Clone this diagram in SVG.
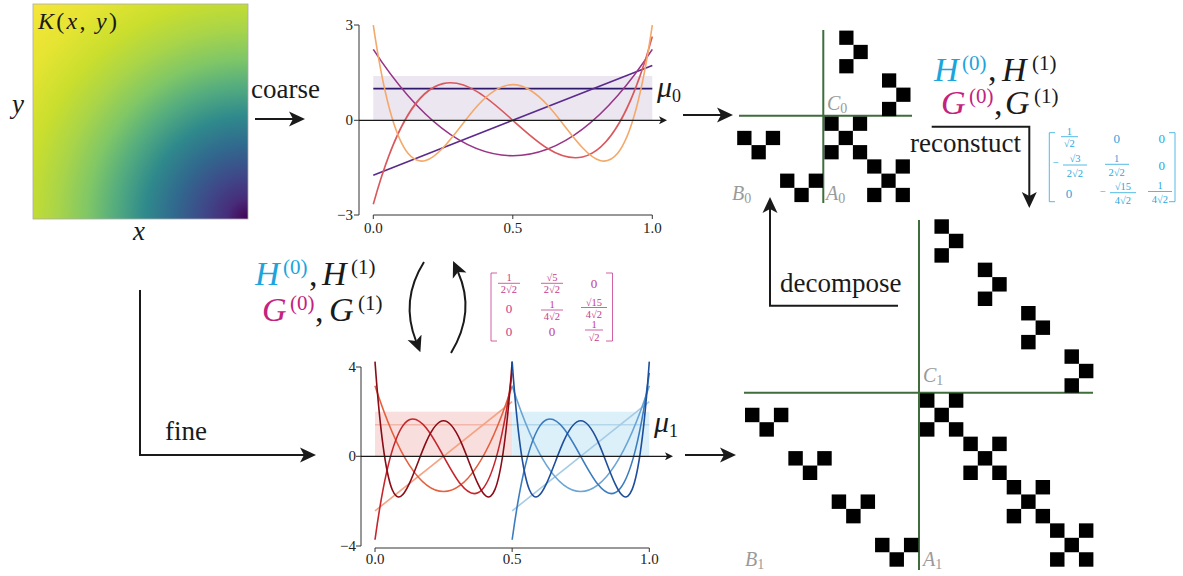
<svg xmlns="http://www.w3.org/2000/svg" width="1183" height="576" viewBox="0 0 1183 576">
<style>
.ax{stroke:#333;stroke-width:1;fill:none}
.cv{fill:none;stroke-width:1.6}
.arr{fill:none;stroke:#1a1a1a;stroke-width:2;marker-end:url(#ah)}
.axl{fill:none;stroke:#1a1a1a;stroke-width:1.2;marker-end:url(#axh)}
.tk{font-family:"Liberation Serif",serif;font-size:15px;fill:#222}
.lbl{font-family:"Liberation Serif",serif;font-size:27px;fill:#1a1a1a}
.it{font-style:italic}
.mt{font-family:"Liberation Serif",serif;font-size:34px;fill:#1a1a1a}
.sup{font-size:21px;font-style:normal}
.gl{stroke:#3f6e3c;stroke-width:2}
.ml{font-family:"Liberation Serif",serif;font-style:italic;font-size:20px;fill:#9a9a9a}
.ms{font-style:normal;font-size:14px}
.fr{font-family:"Liberation Serif",serif;font-size:10.5px;text-anchor:middle}
.z{font-family:"Liberation Serif",serif;font-size:13px;text-anchor:middle}
.pk{fill:#c53a8c}
.pks{stroke:#c53a8c;stroke-width:0.8;fill:none}
.bl{fill:#2aa7dd}
.bls{stroke:#2aa7dd;stroke-width:0.8;fill:none}
.hb{fill:#1ca5dc}
.gm{fill:#c4227f}
</style>
<defs>
<radialGradient id="vir" gradientUnits="userSpaceOnUse" cx="248" cy="219" r="304">
<stop offset="0" stop-color="#440154"/>
<stop offset="0.07" stop-color="#472d7b"/>
<stop offset="0.15" stop-color="#3e4a89"/>
<stop offset="0.24" stop-color="#31688e"/>
<stop offset="0.34" stop-color="#2f8a8c"/>
<stop offset="0.44" stop-color="#55ad7e"/>
<stop offset="0.53" stop-color="#80c766"/>
<stop offset="0.63" stop-color="#aad548"/>
<stop offset="0.73" stop-color="#c9de2e"/>
<stop offset="0.86" stop-color="#e6e432"/>
<stop offset="1" stop-color="#f5e63a"/>
</radialGradient>
<marker id="ah" viewBox="0 -8 16 16" refX="4" refY="0" markerWidth="16" markerHeight="16" markerUnits="userSpaceOnUse" orient="auto">
<path d="M16,0 L0,-7.5 L4,0 L0,7.5 Z" fill="#1a1a1a"/>
</marker>
<marker id="axh" viewBox="0 -4 8 8" refX="2" refY="0" markerWidth="8" markerHeight="8" markerUnits="userSpaceOnUse" orient="auto">
<path d="M8,0 L0,-4 L2,0 L0,4 Z" fill="#1a1a1a"/>
</marker>
</defs>

<rect width="1183" height="576" fill="#fff"/>

<g id="heatmap">
<rect x="33" y="4" width="215" height="215" fill="url(#vir)" stroke="#aaa" stroke-width="0.8"/>
<text x="38" y="29" font-family="Liberation Serif, serif" font-size="24" fill="#1a1a1a" textLength="79" lengthAdjust="spacing"><tspan font-style="italic">K</tspan>(<tspan font-style="italic">x</tspan>, <tspan font-style="italic">y</tspan>)</text>
<text x="12" y="113" font-family="Liberation Serif, serif" font-size="27" font-style="italic" fill="#1a1a1a">y</text>
<text x="133" y="240" font-family="Liberation Serif, serif" font-size="27" font-style="italic" fill="#1a1a1a">x</text>
</g>

<g id="plot-coarse">
<rect x="373.3" y="76" width="279" height="44.3" fill="#ebe6f0"/>
<path class="cv" stroke="#2d1a6b" d="M373.3,88.6 H652.3"/>
<path class="cv" stroke="#5b2a8c" d="M373.3,175.21 L652.3,65.39"/>
<path class="cv" stroke="#983386" d="M373.3,49.42 Q512.8,262.07 652.3,49.42"/>
<path class="cv" stroke="#d9585d" d="M373.3,204.17 C466.3,-131.31 559.3,371.91 652.3,36.43"/>
<path class="cv" stroke="#f4a86a" d="M373.3,25.2 C384.93,104.45 396.55,139.66 408.18,153.59 C419.8,167.52 431.43,160.17 443.05,147.79 C454.68,135.41 466.3,117.99 477.93,105.3 C489.55,92.61 501.18,84.64 512.8,84.64 C524.43,84.64 536.05,92.61 547.68,105.3 C559.3,117.99 570.93,135.41 582.55,147.79 C594.18,160.17 605.8,167.52 617.43,153.59 C629.05,139.66 640.68,104.45 652.3,25.2"/>
<path class="ax" d="M359,25 V215 M354,25 H359 M354,120.3 H359 M354,215 H359 M373.3,215 H652.3 M373.3,215 V219 M512.8,215 V219 M652.3,215 V219"/>
<path class="axl" d="M359,120.3 H661"/>
<text class="tk" x="353" y="30" text-anchor="end">3</text>
<text class="tk" x="353" y="125" text-anchor="end">0</text>
<text class="tk" x="353" y="220" text-anchor="end">−3</text>
<text class="tk" x="373.3" y="233" text-anchor="middle">0.0</text>
<text class="tk" x="512.8" y="233" text-anchor="middle">0.5</text>
<text class="tk" x="652.3" y="233" text-anchor="middle">1.0</text>
<text x="657" y="97" font-family="Liberation Serif, serif" font-size="30" fill="#1a1a1a"><tspan font-style="italic">μ</tspan><tspan font-size="18" dy="5">0</tspan></text>
</g>

<g id="plot-fine">
<rect x="375" y="411.7" width="137.15" height="44.6" fill="#f9dede"/>
<rect x="512.15" y="411.7" width="137.15" height="44.6" fill="#dcf0f9"/>
<path class="cv" stroke="#f2b6aa" d="M375,424.76 H512.15"/>
<path class="cv" stroke="#f5a383" d="M375,510.93 L512.15,401.67"/>
<path class="cv" stroke="#e4603e" d="M375,385.77 Q443.58,597.35 512.15,385.77"/>
<path class="cv" stroke="#c6252b" d="M375,539.75 C420.72,205.95 466.43,706.65 512.15,372.85"/>
<path class="cv" stroke="#8b0c16" d="M375,361.68 C380.71,440.53 386.43,475.57 392.14,489.43 C397.86,503.29 403.57,495.97 409.29,483.65 C415,471.33 420.72,454.01 426.43,441.38 C432.15,428.75 437.86,420.82 443.58,420.82 C449.29,420.82 455,428.75 460.72,441.38 C466.43,454.01 472.15,471.33 477.86,483.65 C483.58,495.97 489.29,503.29 495.01,489.43 C500.72,475.57 506.44,440.53 512.15,361.68"/>
<path class="cv" stroke="#b3d6eb" d="M512.15,424.76 H649.3"/>
<path class="cv" stroke="#a5cbe5" d="M512.15,510.93 L649.3,401.67"/>
<path class="cv" stroke="#6aa5d5" d="M512.15,385.77 Q580.73,597.35 649.3,385.77"/>
<path class="cv" stroke="#3b7cc0" d="M512.15,539.75 C557.87,205.95 603.58,706.65 649.3,372.85"/>
<path class="cv" stroke="#1e4f9c" d="M512.15,361.68 C517.86,440.53 523.58,475.57 529.29,489.43 C535.01,503.29 540.72,495.97 546.44,483.65 C552.15,471.33 557.87,454.01 563.58,441.38 C569.3,428.75 575.01,420.82 580.73,420.82 C586.44,420.82 592.15,428.75 597.87,441.38 C603.58,454.01 609.3,471.33 615.01,483.65 C620.73,495.97 626.44,503.29 632.16,489.43 C637.87,475.57 643.59,440.53 649.3,361.68"/>
<path class="ax" d="M361,367 V546 M356,367 H361 M356,456.3 H361 M356,546 H361 M375,548 H649.3 M375,548 V552 M512.15,548 V552 M649.3,548 V552"/>
<path class="axl" d="M361,456.3 H667"/>
<text class="tk" x="356" y="372" text-anchor="end">4</text>
<text class="tk" x="356" y="461" text-anchor="end">0</text>
<text class="tk" x="356" y="551" text-anchor="end">−4</text>
<text class="tk" x="375" y="564" text-anchor="middle">0.0</text>
<text class="tk" x="512.15" y="564" text-anchor="middle">0.5</text>
<text class="tk" x="649.3" y="564" text-anchor="middle">1.0</text>
<text x="654" y="432" font-family="Liberation Serif, serif" font-size="30" fill="#1a1a1a"><tspan font-style="italic">μ</tspan><tspan font-size="18" dy="5">1</tspan></text>
</g>

<g id="filters-mid">
<text class="mt"><tspan class="hb it" x="255" y="285">H</tspan><tspan class="hb sup" x="283" y="274">(0)</tspan><tspan x="309" y="286">,</tspan><tspan class="it" x="322" y="285">H</tspan><tspan class="sup" x="351" y="274">(1)</tspan></text>
<text class="mt"><tspan class="gm it" x="262" y="321">G</tspan><tspan class="gm sup" x="290" y="310">(0)</tspan><tspan x="315" y="322">,</tspan><tspan class="it" x="329" y="321">G</tspan><tspan class="sup" x="358" y="310">(1)</tspan></text>
</g>

<g id="matrix-pink">
<path class="pks" d="M497,273 H491 V341 H497 M606,273 H612.5 V341 H606"/>
<text class="fr pk" x="509" y="281">1</text><path class="pks" d="M498,283.3 H520"/><text class="fr pk" x="509" y="293">2√2</text>
<text class="fr pk" x="552" y="281">√5</text><path class="pks" d="M541,283.3 H563"/><text class="fr pk" x="552" y="293">2√2</text>
<text class="z pk" x="594" y="288">0</text>
<text class="z pk" x="509" y="313">0</text>
<text class="fr pk" x="552" y="307.5">1</text><path class="pks" d="M541,310 H563"/><text class="fr pk" x="552" y="319.5">4√2</text>
<text class="fr pk" x="594" y="305.5">√15</text><path class="pks" d="M581,307.5 H607"/><text class="fr pk" x="594" y="317.5">4√2</text>
<text class="z pk" x="509" y="336">0</text>
<text class="z pk" x="552" y="336">0</text>
<text class="fr pk" x="594" y="327.5">1</text><path class="pks" d="M585,330 H603"/><text class="fr pk" x="594" y="340.5">√2</text>
</g>

<g id="text-coarse"><text class="lbl" x="251" y="98">coarse</text></g>
<g id="text-fine"><text class="lbl" x="165" y="440">fine</text></g>
<g id="text-decompose"><text class="lbl" x="780" y="292">decompose</text></g>
<g id="text-reconstruct"><text class="lbl" x="910" y="152">reconstuct</text></g>

<g id="filters-top">
<text class="mt"><tspan class="hb it" x="934" y="81">H</tspan><tspan class="hb sup" x="962" y="70">(0)</tspan><tspan x="988" y="81">,</tspan><tspan class="it" x="1002" y="81">H</tspan><tspan class="sup" x="1032" y="70">(1)</tspan></text>
<text class="mt"><tspan class="gm it" x="941" y="114">G</tspan><tspan class="gm sup" x="969" y="103">(0)</tspan><tspan x="994" y="115">,</tspan><tspan class="it" x="1005" y="114">G</tspan><tspan class="sup" x="1034" y="103">(1)</tspan></text>
</g>

<g id="matrix-blue">
<path class="bls" d="M1055,132.7 H1049.3 V201.7 H1055 M1169,132.7 H1175 V201.7 H1169"/>
<text class="fr bl" x="1069.3" y="134.5">1</text><path class="bls" d="M1061,136.7 H1078"/><text class="fr bl" x="1069.3" y="147">√2</text>
<text class="z bl" x="1116.7" y="143">0</text>
<text class="z bl" x="1161.7" y="143">0</text>
<text class="fr bl" x="1056" y="166">−</text>
<text class="fr bl" x="1075" y="162">√3</text><path class="bls" d="M1063,165 H1087"/><text class="fr bl" x="1075" y="176.5">2√2</text>
<text class="fr bl" x="1116.7" y="161.5">1</text><path class="bls" d="M1105,164.3 H1129"/><text class="fr bl" x="1116.7" y="176">2√2</text>
<text class="z bl" x="1161.7" y="170">0</text>
<text class="z bl" x="1069" y="198">0</text>
<text class="fr bl" x="1103" y="195">−</text>
<text class="fr bl" x="1123" y="190">√15</text><path class="bls" d="M1110,192.7 H1136"/><text class="fr bl" x="1123" y="203.5">4√2</text>
<text class="fr bl" x="1160" y="189">1</text><path class="bls" d="M1148,191.5 H1172"/><text class="fr bl" x="1160" y="202.5">4√2</text>
</g>

<g id="matrix-coarse">
<path class="gl" d="M823.3,30 V203 M739,115.7 H912"/>
<g fill="#000">
<rect x="839.25" y="30.6" width="14.25" height="14.25"/>
<rect x="853.5" y="44.85" width="14.25" height="14.25"/>
<rect x="839.25" y="59.1" width="14.25" height="14.25"/>
<rect x="882" y="73.35" width="14.25" height="14.25"/>
<rect x="896.25" y="87.6" width="14.25" height="14.25"/>
<rect x="882" y="101.85" width="14.25" height="14.25"/>
<rect x="824.4" y="116.6" width="14.25" height="14.25"/>
<rect x="852.9" y="116.6" width="14.25" height="14.25"/>
<rect x="838.65" y="130.85" width="14.25" height="14.25"/>
<rect x="824.4" y="145.1" width="14.25" height="14.25"/>
<rect x="852.9" y="145.1" width="14.25" height="14.25"/>
<rect x="867.15" y="159.35" width="14.25" height="14.25"/>
<rect x="895.65" y="159.35" width="14.25" height="14.25"/>
<rect x="881.4" y="173.6" width="14.25" height="14.25"/>
<rect x="867.15" y="187.85" width="14.25" height="14.25"/>
<rect x="895.65" y="187.85" width="14.25" height="14.25"/>
<rect x="737.2" y="130.85" width="14.3" height="14.25"/>
<rect x="765.8" y="130.85" width="14.3" height="14.25"/>
<rect x="751.5" y="145.1" width="14.3" height="14.25"/>
<rect x="780.1" y="173.6" width="14.3" height="14.25"/>
<rect x="808.7" y="173.6" width="14.3" height="14.25"/>
<rect x="794.4" y="187.85" width="14.3" height="14.25"/>
</g>
<text class="ml" x="827" y="110">C<tspan class="ms" dy="3">0</tspan></text>
<text class="ml" x="826" y="200">A<tspan class="ms" dy="3">0</tspan></text>
<text class="ml" x="732" y="200">B<tspan class="ms" dy="3">0</tspan></text>
</g>

<g id="matrix-fine">
<path class="gl" d="M919,220 V570 M744,392.7 H1093"/>
<g fill="#000">
<rect x="934.45" y="219.3" width="14.45" height="14.45"/>
<rect x="948.9" y="233.75" width="14.45" height="14.45"/>
<rect x="934.45" y="248.2" width="14.45" height="14.45"/>
<rect x="977.8" y="262.65" width="14.45" height="14.45"/>
<rect x="992.25" y="277.1" width="14.45" height="14.45"/>
<rect x="977.8" y="291.55" width="14.45" height="14.45"/>
<rect x="1021.15" y="306" width="14.45" height="14.45"/>
<rect x="1035.6" y="320.45" width="14.45" height="14.45"/>
<rect x="1021.15" y="334.9" width="14.45" height="14.45"/>
<rect x="1064.5" y="349.35" width="14.45" height="14.45"/>
<rect x="1078.95" y="363.8" width="14.45" height="14.45"/>
<rect x="1064.5" y="378.25" width="14.45" height="14.45"/>

<rect x="920" y="393.3" width="14.45" height="14.45"/>
<rect x="948.9" y="393.3" width="14.45" height="14.45"/>
<rect x="934.45" y="407.75" width="14.45" height="14.45"/>
<rect x="920" y="422.2" width="14.45" height="14.45"/>
<rect x="948.9" y="422.2" width="14.45" height="14.45"/>
<rect x="963.35" y="436.65" width="14.45" height="14.45"/>
<rect x="992.25" y="436.65" width="14.45" height="14.45"/>
<rect x="977.8" y="451.1" width="14.45" height="14.45"/>
<rect x="963.35" y="465.55" width="14.45" height="14.45"/>
<rect x="992.25" y="465.55" width="14.45" height="14.45"/>
<rect x="1006.7" y="480" width="14.45" height="14.45"/>
<rect x="1035.6" y="480" width="14.45" height="14.45"/>
<rect x="1021.15" y="494.45" width="14.45" height="14.45"/>
<rect x="1006.7" y="508.9" width="14.45" height="14.45"/>
<rect x="1035.6" y="508.9" width="14.45" height="14.45"/>
<rect x="1050.05" y="523.35" width="14.45" height="14.45"/>
<rect x="1078.95" y="523.35" width="14.45" height="14.45"/>
<rect x="1064.5" y="537.8" width="14.45" height="14.45"/>
<rect x="1050.05" y="552.25" width="14.45" height="14.45"/>
<rect x="1078.95" y="552.25" width="14.45" height="14.45"/>

<rect x="745" y="407.75" width="14.45" height="14.45"/>
<rect x="773.9" y="407.75" width="14.45" height="14.45"/>
<rect x="759.45" y="422.2" width="14.45" height="14.45"/>
<rect x="788.35" y="451.1" width="14.45" height="14.45"/>
<rect x="817.25" y="451.1" width="14.45" height="14.45"/>
<rect x="802.8" y="465.55" width="14.45" height="14.45"/>
<rect x="831.7" y="494.45" width="14.45" height="14.45"/>
<rect x="860.6" y="494.45" width="14.45" height="14.45"/>
<rect x="846.15" y="508.9" width="14.45" height="14.45"/>
<rect x="875.05" y="537.8" width="14.45" height="14.45"/>
<rect x="903.95" y="537.8" width="14.45" height="14.45"/>
<rect x="889.5" y="552.25" width="14.45" height="14.45"/>
</g>
<text class="ml" x="923" y="382">C<tspan class="ms" dy="3">1</tspan></text>
<text class="ml" x="923" y="566">A<tspan class="ms" dy="3">1</tspan></text>
<text class="ml" x="745" y="566">B<tspan class="ms" dy="3">1</tspan></text>
</g>

<g id="connectors">
<path class="arr" d="M255,119 H293"/>
<path class="arr" d="M140,290 V455 H304"/>
<path class="arr" d="M683,115 H721"/>
<path class="arr" d="M685,455 H724"/>
<path class="arr" d="M898,305.7 H770 V209"/>
<path class="arr" d="M931.7,126.7 H1029.3 V196"/>
<path class="arr" d="M424,262 Q400,300 416,341"/>
<path class="arr" d="M451,353 Q476,312 458,272"/>
</g>
</svg>
